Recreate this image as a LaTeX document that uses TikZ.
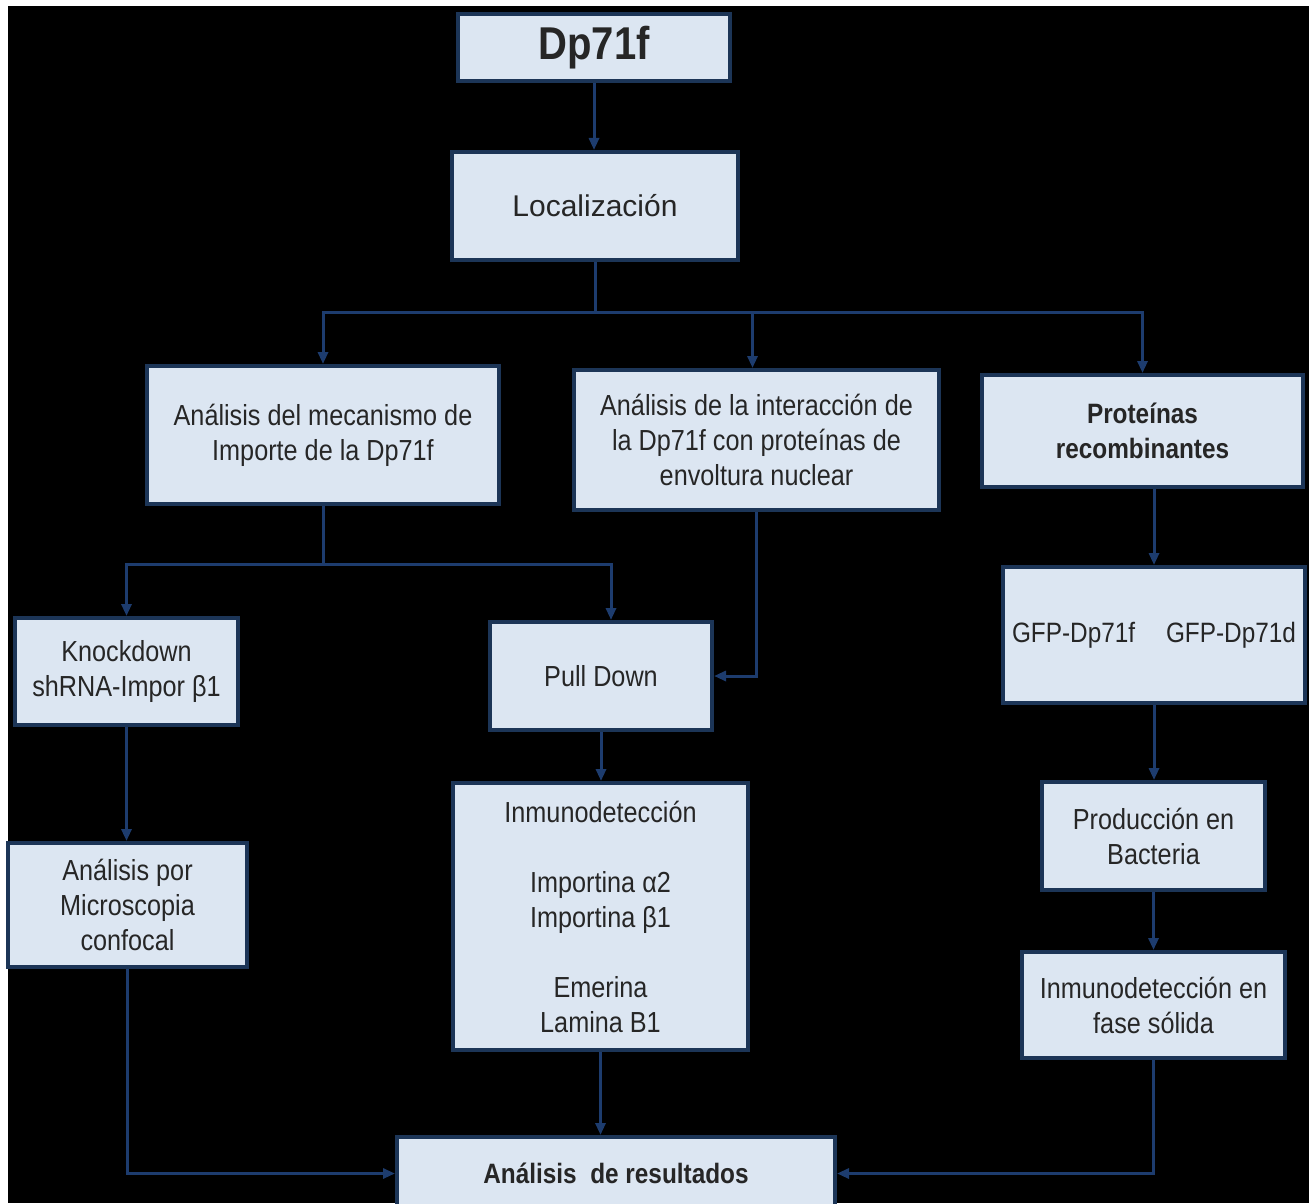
\documentclass[tikz,border=0pt]{standalone}
\usepackage{fontspec}
\setmainfont{Liberation Sans}
\newfontfamily\nf[FakeStretch=0.87]{Liberation Sans}
\usetikzlibrary{arrows.meta,calc}
\definecolor{boxfill}{HTML}{DCE6F2}
\definecolor{boxline}{HTML}{1C3557}
\definecolor{connc}{HTML}{1D3C6E}
\begin{document}
\begin{tikzpicture}[x=0.5pt,y=-0.5pt,
  box/.style={draw=boxline, line width=2pt, fill=boxfill, inner sep=0pt, align=center,
    font=\nf\fontsize{14.5}{17.5}\selectfont, text=black!85},
  conn/.style={draw=connc, line width=1.5pt},
  arr/.style={conn, -{Triangle[length=6pt,width=5pt]}}]
\fill[white] (0,0) rectangle (1309,1203);
\fill[black] (8,6) rectangle (1309,1203);
\useasboundingbox (0,0) rectangle (1309,1203);

\node[box, minimum width=136pt, minimum height=33.5pt, font=\nf\bfseries\fontsize{23}{27}\selectfont] (dp) at (594,47.5) {Dp71f};
\node[box, minimum width=143pt, minimum height=54pt, font=\fontsize{15}{18}\selectfont] (loc) at (595,206) {Localización};
\node[box, minimum width=176pt, minimum height=69pt] (A) at (323,435) {Análisis del mecanismo de\\Importe de la Dp71f};
\node[box, minimum width=182.5pt, minimum height=70pt] (B) at (756.5,440) {Análisis de la interacción de\\la Dp71f con proteínas de\\envoltura nuclear};
\node[box, minimum width=160.5pt, minimum height=56pt, font=\nf\bfseries\fontsize{14}{17.5}\selectfont] (C) at (1142.5,431) {Proteínas\\recombinantes};
\node[box, minimum width=151pt, minimum height=68pt, font=\nf\fontsize{14}{17.5}\selectfont] (gfp) at (1154,635) {GFP-Dp71f\hspace{1.1em}GFP-Dp71d};
\node[box, minimum width=111.5pt, minimum height=53.5pt] (kd) at (126.5,671.5) {Knockdown\\shRNA-Impor β1};
\node[box, minimum width=111pt, minimum height=54pt] (pd) at (601,676) {Pull Down};
\node[box, minimum width=147.5pt, minimum height=133.5pt] (inm) at (600.5,916.5) {Inmunodetección\\[17.5pt]Importina α2\\Importina β1\\[17.5pt]Emerina\\Lamina B1};
\node[box, minimum width=119.5pt, minimum height=62pt] (mic) at (127.5,905) {Análisis por\\Microscopia\\confocal};
\node[box, minimum width=111.5pt, minimum height=54pt] (prod) at (1153.5,836) {Producción en\\Bacteria};
\node[box, minimum width=131.5pt, minimum height=53pt] (fase) at (1153.5,1005) {Inmunodetección en\\fase sólida};
\node[box, minimum width=219pt, minimum height=36.5pt, font=\nf\bfseries\fontsize{14}{17}\selectfont] (res) at (616,1173.5) {Análisis\ \ de resultados};

\coordinate (j1) at (595,312);
\draw[arr] (dp.south) -- (dp.south |- loc.north);
\draw[conn] (loc.south) -- (j1);
\draw[arr] (j1) -| (A.north);
\draw[arr] (j1) -| ([xshift=-2pt]B.north);
\draw[arr] (j1) -| (C.north);
\path (A.south) ++(0,58) coordinate (j2);
\draw[conn] (A.south) -- (j2);
\draw[arr] (j2) -| (kd.north);
\draw[arr] (j2) -| ([xshift=5pt]pd.north);
\draw[arr] (B.south) |- (pd.east);
\draw[arr] (pd.south) -- (pd.south |- inm.north);
\draw[arr] (kd.south) -- (kd.south |- mic.north);
\draw[arr] (C.south -| gfp.north) -- (gfp.north);
\draw[arr] (gfp.south) -- (gfp.south |- prod.north);
\draw[arr] (prod.south) -- (prod.south |- fase.north);
\draw[arr] (inm.south) -- (inm.south |- res.north);
\draw[arr] (mic.south) |- (res.west);
\draw[arr] (fase.south) |- (res.east);
\end{tikzpicture}
\end{document}
